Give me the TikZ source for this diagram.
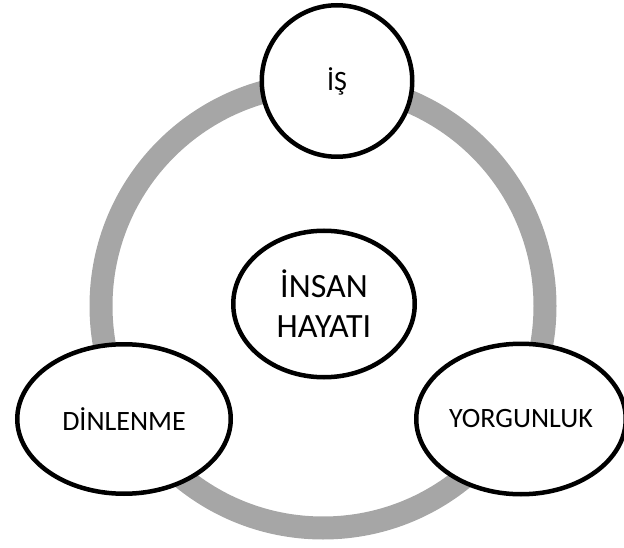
\documentclass[tikz,border=0pt]{standalone}
\usepackage{fontspec}
\setmainfont{Carlito}
\usetikzlibrary{shapes.geometric}
\definecolor{ringgray}{RGB}{166,166,166}

\begin{document}
\begin{tikzpicture}[
      x=1pt, y=-1pt,
      bubble/.style={draw, ellipse, line width=4.5pt, fill=white, inner sep=0pt, font=\fontsize{28}{34}\selectfont},
      ring/.style={draw=ringgray, line width=23pt}
    ]
      \useasboundingbox (0,0) rectangle (624,548);

      % Cycle ring
      \coordinate (mid) at (323,306);
      \draw[ring] (mid) circle (222pt);

      % Bubbles
      \node[bubble, minimum width=181.5pt, minimum height=146.5pt, align=center, font=\fontsize{34}{40}\selectfont] (hayat) at (324,304) {İNSAN\\HAYATI};
      \node[bubble, minimum width=150.5pt, minimum height=151.5pt] (is) at (337,81) {İŞ};
      \node[bubble, minimum width=213.5pt, minimum height=149.5pt] (dinlenme) at (124,419) {DİNLENME};
      \node[bubble, minimum width=209.5pt, minimum height=150.5pt] (yorgunluk) at (521,419) {YORGUNLUK};
    \end{tikzpicture}
\end{document}
